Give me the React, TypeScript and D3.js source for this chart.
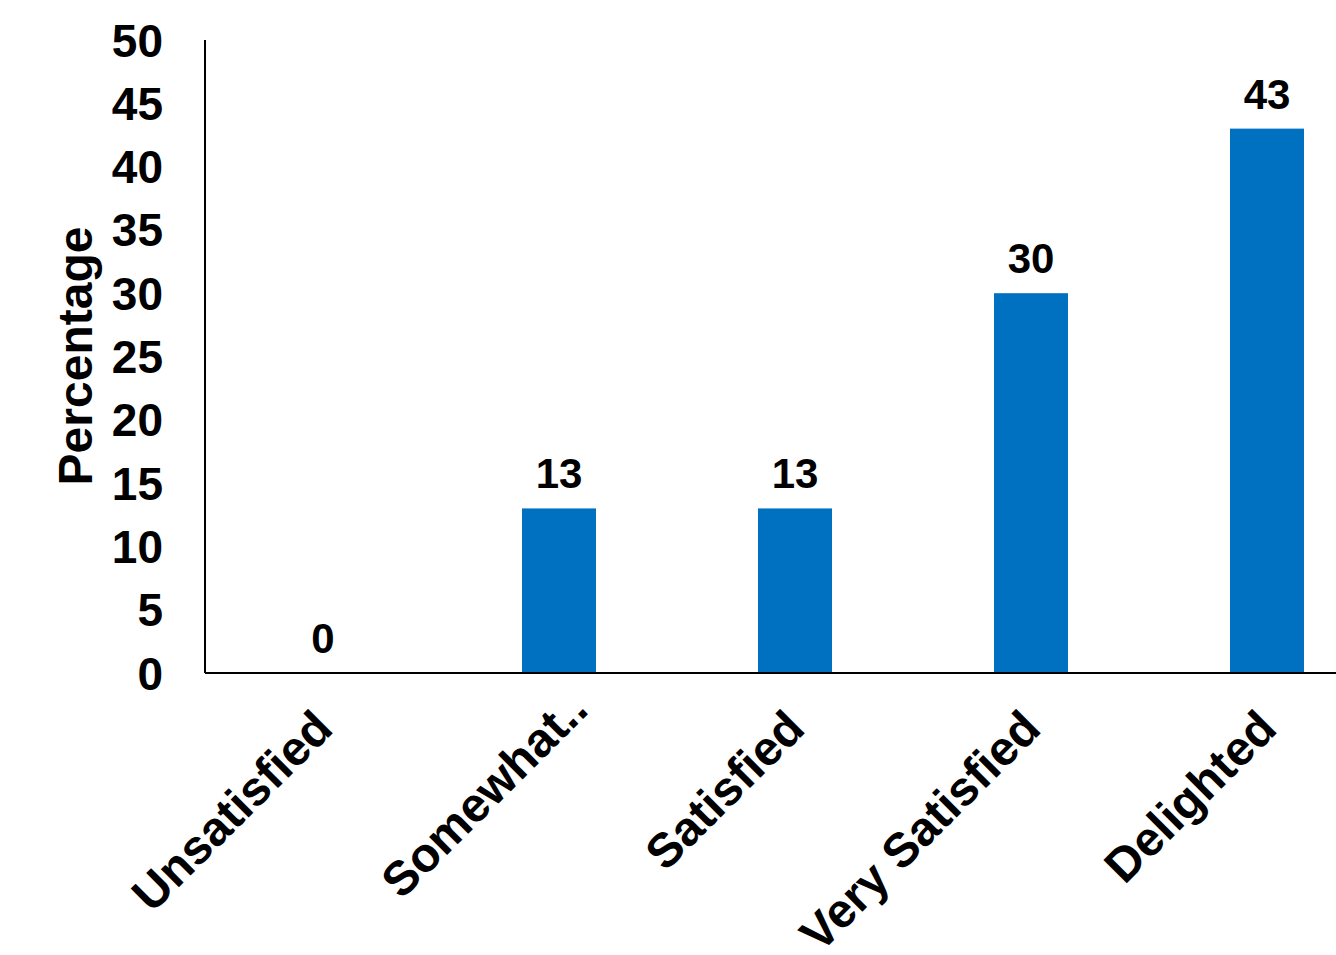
import React from "react";
import * as d3 from "d3";

const categories = ["Unsatisfied", "Somewhat..", "Satisfied", "Very Satisfied", "Delighted"];
const values = [0, 13, 13, 30, 43];
const yTicks = [0, 5, 10, 15, 20, 25, 30, 35, 40, 45, 50];

const W = 1336;
const H = 955;
const left = 205;
const bottom = 673;
const top = 40;
const FONT = "'Liberation Sans', Arial, sans-serif";
const BAR = "#0070C0";

export default function App() {
  const x = d3
    .scaleBand<string>()
    .domain(categories)
    .range([left, left + 236 * categories.length])
    .paddingInner(0.6864)
    .paddingOuter(0.3432);
  const y = d3.scaleLinear().domain([0, 50]).range([bottom, top]);

  return (
    <svg
      width={W}
      height={H}
      style={{ position: "absolute", left: 0, top: 0, background: "#fff" }}
      fontFamily={FONT}
      fontWeight="bold"
    >
      {categories.map((c, i) => (
        <rect
          key={c}
          x={x(c)!}
          y={y(values[i])}
          width={x.bandwidth()}
          height={bottom - y(values[i])}
          fill={BAR}
        />
      ))}
      <line x1={left} x2={W} y1={bottom} y2={bottom} stroke="#000" strokeWidth={2} />
      <line x1={left} x2={left} y1={top} y2={bottom} stroke="#000" strokeWidth={2} />
      {yTicks.map((t) => (
        <text key={t} x={163} y={y(t)} dy="0.36em" textAnchor="end" fontSize={46}>
          {t}
        </text>
      ))}
      {categories.map((c, i) => (
        <text
          key={"v" + c}
          x={x(c)! + x.bandwidth() / 2}
          y={y(values[i]) - 20}
          textAnchor="middle"
          fontSize={42}
        >
          {values[i]}
        </text>
      ))}
      {categories.map((c) => {
        const cx = x(c)! + x.bandwidth() / 2 + 12;
        const cy = bottom + 58;
        const truncated = c.endsWith("..");
        return (
          <text
            key={"c" + c}
            transform={`translate(${cx},${cy}) rotate(-45)`}
            textAnchor="end"
            dx={truncated ? 27 : 0}
            fontSize={48}
          >
            {c}
          </text>
        );
      })}
      <text
        transform={`translate(92,356) rotate(-90)`}
        textAnchor="middle"
        fontSize={48}
      >
        Percentage
      </text>
    </svg>
  );
}
